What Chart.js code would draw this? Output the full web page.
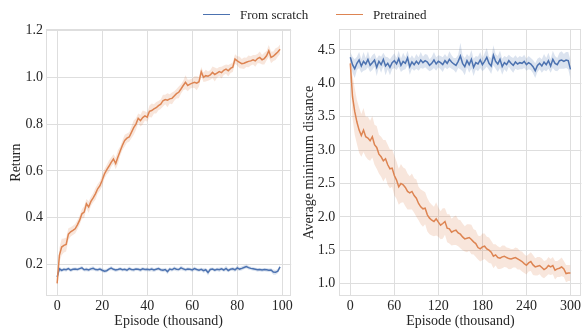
<!DOCTYPE html>
<html><head><meta charset="utf-8">
<script src="https://cdn.jsdelivr.net/npm/chart.js@4.4.1/dist/chart.umd.min.js"></script>
<style>
html,body{margin:0;padding:0;background:#fff;}
#wrap{position:relative;width:583px;height:330px;overflow:hidden;background:#fff;}
canvas{position:absolute;left:0;top:0;}
.leg{position:absolute;top:6px;font-family:'Liberation Serif','Times New Roman',serif;font-size:13px;color:#262626;line-height:18px;white-space:nowrap;}
.sw{position:absolute;height:0;border-top:1.5px solid;}
</style></head>
<body><div id="wrap">
<canvas id="c1" width="583" height="330"></canvas>
<canvas id="c2" width="583" height="330"></canvas>
<div class="sw" style="left:203px;top:14px;width:27px;border-color:#4c72b0"></div>
<div class="leg" style="left:240px">From scratch</div>
<div class="sw" style="left:336px;top:14px;width:27px;border-color:#dd8452"></div>
<div class="leg" style="left:373px">Pretrained</div>
</div>
<script>
// ---- categories (episode, thousand) ----
const leftEpisodes = [0,1,2,3,4,5,6,7,8,9,10,11,12,13,14,15,16,17,18,19,20,21,22,23,24,25,26,27,28,29,30,31,32,33,34,35,36,37,38,39,40,41,42,43,44,45,46,47,48,49,50,51,52,53,54,55,56,57,58,59,60,61,62,63,64,65,66,67,68,69,70,71,72,73,74,75,76,77,78,79,80,81,82,83,84,85,86,87,88,89,90,91,92,93,94,95,96,97,98,99];
const rightEpisodes = [0,3,6,9,12,15,18,21,24,27,30,33,36,39,42,45,48,51,54,57,60,63,66,69,72,75,78,81,84,87,90,93,96,99,102,105,108,111,114,117,120,123,126,129,132,135,138,141,144,147,150,153,156,159,162,165,168,171,174,177,180,183,186,189,192,195,198,201,204,207,210,213,216,219,222,225,228,231,234,237,240,243,246,249,252,255,258,261,264,267,270,273,276,279,282,285,288,291,294,297,300];

// ---- Return (left panel) ----
const returnScratch = [
0.147,0.182,0.175,0.180,0.178,0.183,0.176,0.180,0.181,0.179,
0.183,0.186,0.178,0.180,0.177,0.182,0.184,0.179,0.178,0.181,
0.176,0.172,0.174,0.181,0.185,0.180,0.177,0.179,0.182,0.178,
0.180,0.176,0.183,0.179,0.178,0.181,0.180,0.177,0.182,0.179,
0.180,0.178,0.181,0.177,0.180,0.183,0.178,0.176,0.179,0.170,
0.181,0.178,0.184,0.180,0.179,0.186,0.182,0.178,0.181,0.180,
0.177,0.183,0.179,0.176,0.180,0.174,0.178,0.166,0.179,0.181,
0.176,0.180,0.178,0.182,0.177,0.184,0.175,0.180,0.182,0.178,
0.186,0.181,0.184,0.188,0.192,0.187,0.184,0.182,0.180,0.178,
0.179,0.177,0.179,0.178,0.176,0.177,0.168,0.167,0.172,0.190];
const returnScratchSpread = [
0.010,0.010,0.008,0.007,0.008,0.007,0.009,0.007,0.008,0.007,
0.007,0.009,0.007,0.008,0.007,0.008,0.009,0.007,0.007,0.008,
0.008,0.009,0.008,0.007,0.009,0.007,0.008,0.007,0.008,0.007,
0.007,0.008,0.009,0.007,0.008,0.007,0.007,0.009,0.008,0.007,
0.008,0.007,0.009,0.008,0.007,0.008,0.007,0.009,0.008,0.011,
0.008,0.007,0.009,0.008,0.007,0.010,0.008,0.007,0.008,0.007,
0.008,0.009,0.007,0.008,0.007,0.010,0.008,0.012,0.008,0.007,
0.008,0.007,0.009,0.008,0.007,0.011,0.008,0.007,0.009,0.008,
0.010,0.008,0.009,0.008,0.009,0.008,0.007,0.008,0.007,0.008,
0.007,0.008,0.007,0.008,0.007,0.008,0.011,0.010,0.009,0.008];
const returnPretrained = [
0.120,0.240,0.275,0.282,0.286,0.330,0.340,0.346,0.353,0.370,
0.390,0.417,0.424,0.460,0.446,0.470,0.485,0.502,0.524,0.537,
0.560,0.587,0.605,0.620,0.637,0.651,0.632,0.660,0.685,0.710,
0.730,0.740,0.745,0.765,0.785,0.800,0.825,0.815,0.828,0.835,
0.830,0.855,0.858,0.865,0.870,0.879,0.885,0.900,0.905,0.902,
0.908,0.910,0.920,0.930,0.936,0.950,0.965,0.979,0.965,0.971,
0.975,0.979,0.975,0.981,1.024,1.000,1.007,1.005,1.010,1.021,
1.012,1.018,1.024,1.020,1.030,1.035,1.028,1.038,1.043,1.078,
1.070,1.064,1.058,1.060,1.064,1.068,1.070,1.075,1.070,1.080,
1.085,1.075,1.080,1.092,1.113,1.085,1.090,1.099,1.108,1.120];
const returnPretrainedSpread = [
0.010,0.030,0.035,0.030,0.030,0.025,0.020,0.020,0.020,0.020,
0.020,0.020,0.025,0.020,0.025,0.020,0.020,0.025,0.020,0.020,
0.025,0.020,0.020,0.025,0.020,0.020,0.025,0.030,0.020,0.020,
0.025,0.020,0.020,0.025,0.030,0.025,0.020,0.025,0.030,0.020,
0.020,0.025,0.030,0.020,0.025,0.020,0.020,0.025,0.020,0.030,
0.020,0.025,0.020,0.020,0.025,0.020,0.020,0.030,0.025,0.020,
0.020,0.025,0.030,0.020,0.020,0.020,0.025,0.020,0.020,0.025,
0.030,0.020,0.020,0.025,0.020,0.020,0.025,0.020,0.020,0.020,
0.020,0.025,0.020,0.025,0.020,0.025,0.020,0.020,0.025,0.020,
0.025,0.020,0.025,0.020,0.025,0.025,0.020,0.025,0.020,0.020];

// ---- Average minimum distance (right panel) ----
const distScratch = [
4.39,4.28,4.22,4.30,4.35,4.26,4.33,4.29,4.36,4.27,
4.31,4.35,4.24,4.33,4.28,4.36,4.26,4.30,4.24,4.31,
4.34,4.29,4.37,4.27,4.33,4.30,4.38,4.25,4.32,4.28,
4.33,4.29,4.35,4.31,4.34,4.32,4.27,4.30,4.35,4.29,
4.33,4.31,4.28,4.34,4.30,4.36,4.32,4.29,4.27,4.33,
4.41,4.30,4.25,4.34,4.28,4.36,4.24,4.31,4.29,4.35,
4.28,4.33,4.39,4.30,4.26,4.42,4.33,4.29,4.36,4.25,
4.31,4.28,4.34,4.30,4.27,4.32,4.29,4.31,4.30,4.33,
4.28,4.31,4.29,4.25,4.19,4.27,4.30,4.26,4.32,4.28,
4.34,4.26,4.36,4.30,4.28,4.34,4.35,4.33,4.35,4.34,
4.21];
const distScratchSpread = [
0.08,0.12,0.14,0.10,0.12,0.10,0.14,0.09,0.12,0.10,
0.11,0.10,0.13,0.09,0.12,0.10,0.14,0.09,0.12,0.10,
0.11,0.09,0.12,0.10,0.13,0.09,0.11,0.12,0.10,0.09,
0.11,0.10,0.12,0.09,0.10,0.11,0.09,0.10,0.12,0.10,
0.09,0.10,0.11,0.10,0.09,0.12,0.10,0.09,0.11,0.10,
0.20,0.12,0.13,0.10,0.12,0.14,0.13,0.10,0.11,0.12,
0.10,0.12,0.14,0.10,0.12,0.15,0.11,0.12,0.13,0.12,
0.10,0.11,0.09,0.10,0.11,0.10,0.09,0.10,0.09,0.10,
0.09,0.10,0.09,0.10,0.11,0.10,0.09,0.10,0.12,0.10,
0.12,0.10,0.13,0.11,0.10,0.12,0.13,0.11,0.12,0.13,
0.14];
const distPretrained = [
4.30,3.80,3.58,3.42,3.30,3.22,3.30,3.20,3.18,3.14,
3.20,3.08,3.04,2.94,2.90,2.84,2.87,2.78,2.72,2.73,
2.62,2.55,2.45,2.50,2.48,2.44,2.38,2.36,2.38,2.32,
2.28,2.20,2.15,2.12,2.13,2.03,1.98,1.95,1.93,1.97,
1.92,1.875,1.90,1.93,1.83,1.82,1.77,1.79,1.80,1.76,
1.74,1.70,1.67,1.68,1.69,1.66,1.625,1.60,1.54,1.52,
1.55,1.56,1.52,1.50,1.47,1.41,1.43,1.39,1.38,1.40,
1.41,1.39,1.375,1.37,1.38,1.39,1.37,1.35,1.33,1.30,
1.275,1.31,1.33,1.28,1.25,1.26,1.27,1.24,1.21,1.23,
1.27,1.25,1.27,1.20,1.22,1.23,1.25,1.22,1.15,1.16,
1.16];
const distPretrainedSpread = [
0.12,0.32,0.35,0.33,0.34,0.32,0.33,0.30,0.32,0.30,
0.31,0.30,0.32,0.29,0.30,0.31,0.28,0.30,0.29,0.28,
0.30,0.28,0.27,0.29,0.26,0.28,0.27,0.25,0.27,0.26,
0.28,0.25,0.26,0.27,0.24,0.25,0.24,0.23,0.22,0.25,
0.22,0.21,0.23,0.20,0.21,0.22,0.20,0.21,0.22,0.20,
0.21,0.20,0.19,0.21,0.20,0.22,0.19,0.20,0.18,0.19,
0.20,0.19,0.18,0.19,0.17,0.18,0.16,0.17,0.16,0.17,
0.16,0.15,0.16,0.15,0.14,0.15,0.16,0.14,0.15,0.14,
0.14,0.13,0.14,0.15,0.13,0.14,0.13,0.14,0.13,0.12,
0.13,0.12,0.13,0.14,0.12,0.13,0.14,0.12,0.13,0.12,
0.12];

// ---- tick values ----
const leftXTicks = [0,20,40,60,80,100];
const leftYTicks = [0.2,0.4,0.6,0.8,1.0,1.2];
const rightXTicks = [0,60,120,180,240,300];
const rightYTicks = [1.0,1.5,2.0,2.5,3.0,3.5,4.0,4.5];

const labels = {scratch:'From scratch', pretrained:'Pretrained'};
const BLUE = '#4c72b0', ORANGE = '#dd8452';
const BLUE_BAND = 'rgba(76,114,176,0.2)', ORANGE_BAND = 'rgba(221,132,82,0.2)';
const GRID = '#dedede', TXT = '#262626';

Chart.defaults.font.family = "'Liberation Serif','Times New Roman',serif";
Chart.defaults.color = TXT;

function seriesSets(xs, mean, spread, color, band, base, name){
  const lo = xs.map((x,i)=>({x, y: mean[i]-spread[i]}));
  const hi = xs.map((x,i)=>({x, y: mean[i]+spread[i]}));
  const mid = xs.map((x,i)=>({x, y: mean[i]}));
  return [
    {label: name+' lo', data: lo, borderWidth:0, borderColor:'rgba(0,0,0,0)', pointRadius:0, fill:false, order: base+1},
    {label: name+' hi', data: hi, borderWidth:0, borderColor:'rgba(0,0,0,0)', pointRadius:0, fill:'-1', backgroundColor: band, order: base+1},
    {label: name, data: mid, borderColor: color, borderWidth:1.5, pointRadius:0, fill:false, tension:0, order: base}
  ];
}

const spines = {id:'spines', beforeDatasetsDraw(chart){
  const {ctx, chartArea:a} = chart;
  ctx.save(); ctx.strokeStyle = GRID; ctx.lineWidth = 1;
  const l = Math.round(a.left)+0.5, t = Math.round(a.top)+0.5, r = Math.round(a.right)-0.5, b = Math.round(a.bottom)-0.5;
  ctx.strokeRect(l, t, r-l, b-t);
  ctx.restore();
}};

function xScale(min, max, ticks){
  return {type:'linear', min, max,
    afterBuildTicks: s => { s.ticks = ticks.map(v=>({value:v})); },
    afterFit: s => { s.height = 34; },
    grid:{color:GRID, lineWidth:1, drawTicks:false}, border:{display:false},
    ticks:{padding:2, color:TXT, font:{size:14}, maxRotation:0, autoSkip:false, callback: v => String(v)},
    title:{display:true, text:'Episode (thousand)', color:TXT, font:{size:14}, padding:{top:0,bottom:0}}};
}
function yScale(min, max, ticks, title, width, pad, titlePad){
  return {type:'linear', min, max,
    afterBuildTicks: s => { s.ticks = ticks.map(v=>({value:v})); },
    afterFit: s => { s.width = width; },
    grid:{color:GRID, lineWidth:1, drawTicks:false}, border:{display:false},
    ticks:{padding:pad, color:TXT, font:{size:14}, autoSkip:false, callback: v => Number(v).toFixed(1)},
    title:{display:true, text:title, color:TXT, font:{size:14}, padding:{top:titlePad,bottom:0}}};
}

function make(id, xs, a, aS, b, bS, xr, yr, xt, yt, ytitle, yw, pad, tpad, layoutPad){
  new Chart(document.getElementById(id), {
    type:'line',
    data:{datasets:[
      ...seriesSets(xs, a, aS, BLUE, BLUE_BAND, 3, labels.scratch),
      ...seriesSets(xs, b, bS, ORANGE, ORANGE_BAND, 1, labels.pretrained)
    ]},
    options:{responsive:false, animation:false, devicePixelRatio:1,
      layout:{padding:layoutPad},
      plugins:{legend:{display:false}, tooltip:{enabled:false}},
      scales:{x: xScale(xr[0], xr[1], xt), y: yScale(yr[0], yr[1], yt, ytitle, yw, pad, tpad)}},
    plugins:[spines]
  });
}

make('c1', leftEpisodes, returnScratch, returnScratchSpread, returnPretrained, returnPretrainedSpread,
  [-4.95, 103.95], [0.066, 1.205], leftXTicks, leftYTicks, 'Return', 46, 3, 8.3,
  {left:0, right:291.8, top:29.3, bottom:0});
make('c2', rightEpisodes, distScratch, distScratchSpread, distPretrained, distPretrainedSpread,
  [-15, 315], [0.814, 4.81], rightXTicks, rightYTicks, 'Average minimum distance', 44.3, 4, 5.6,
  {left:295, right:1, top:29.3, bottom:0});
</script>
</body></html>
